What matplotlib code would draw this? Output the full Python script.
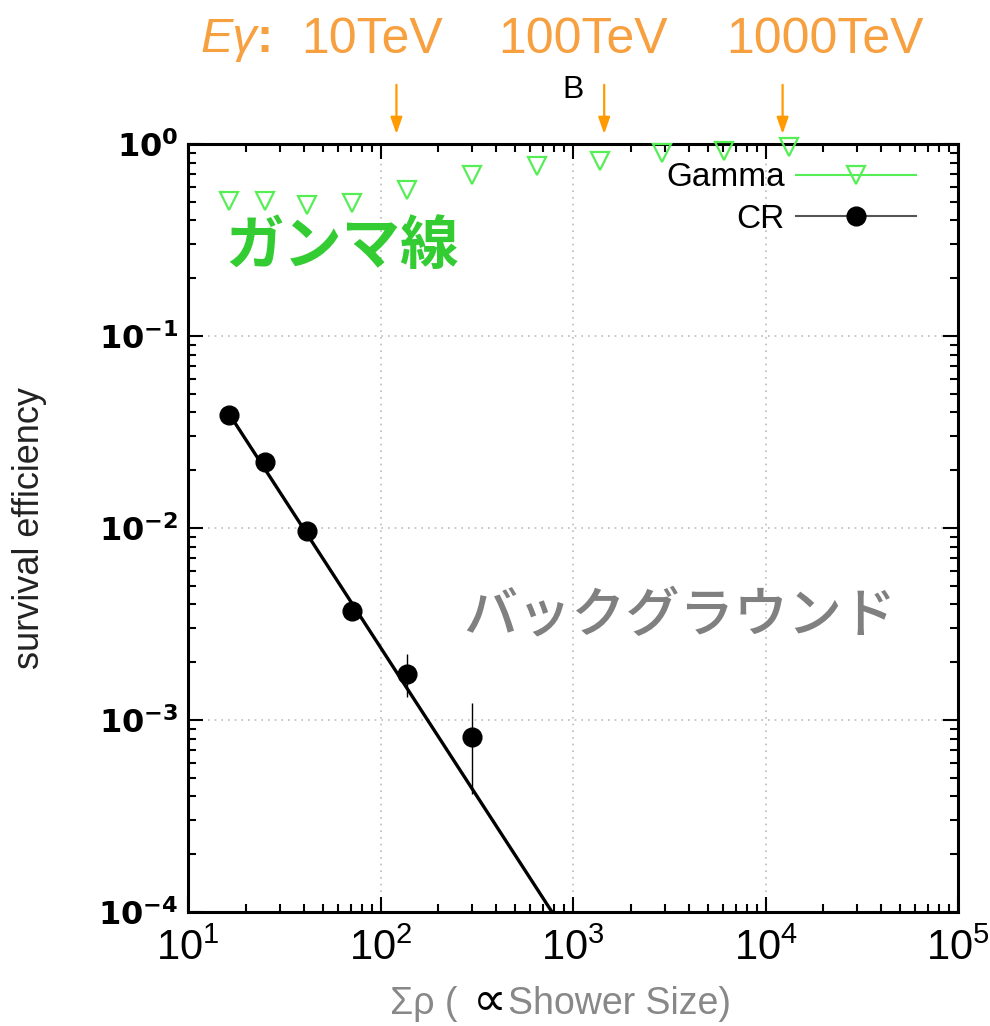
import matplotlib
matplotlib.use('Agg')
import matplotlib.pyplot as plt
from matplotlib.lines import Line2D
import matplotlib.transforms as mtrans

# ---------------- data ----------------
gamma_x = [16.3, 25.1, 41.5, 71, 137, 299, 650, 1380, 2900, 6080, 13200]
gamma_y = [0.507, 0.505, 0.481, 0.493, 0.576, 0.690, 0.768, 0.815, 0.898, 0.920, 0.964]

cr_x = [16.3, 25.1, 41.5, 71, 137, 299]
cr_y = [0.0388, 0.0221, 0.00964, 0.0037, 0.00174, 0.000815]
cr_y_low = [0.0370, 0.0210, 0.00910, 0.00345, 0.00132, 0.000412]
cr_y_high = [0.0405, 0.0232, 0.01020, 0.00395, 0.00221, 0.00123]

fit_x = [16.3, 778]
fit_y = [0.0395, 1.0e-4]

arrow_x = [121, 1452, 12270]
energy_labels = ['10TeV', '100TeV', '1000TeV']

xticks = [1e1, 1e2, 1e3, 1e4, 1e5]
xtick_labels = [r'$\mathregular{10^{1}}$', r'$\mathregular{10^{2}}$', r'$\mathregular{10^{3}}$',
                r'$\mathregular{10^{4}}$', r'$\mathregular{10^{5}}$']
yticks = [1e-4, 1e-3, 1e-2, 1e-1, 1e0]
ytick_labels = [r'$\mathregular{10^{-4}}$', r'$\mathregular{10^{-3}}$', r'$\mathregular{10^{-2}}$',
                r'$\mathregular{10^{-1}}$', r'$\mathregular{10^{0}}$']

# ---------------- style ----------------
NARROW = ['Liberation Sans', 'DejaVu Sans']
CJK = ['Noto Sans CJK JP', 'DejaVu Sans']
ORANGE_T = '#F7A040'
ORANGE_A = '#FF9A00'
GREEN_M = '#55EE55'

W, H = 990, 1026
fig = plt.figure(figsize=(W / 100, H / 100), dpi=100)
ax = fig.add_axes([188 / W, 1 - 912 / H, 770 / W, 768 / H])

def fx(px):
    return px / W

def fy(py):
    return 1 - py / H

ax.set_xscale('log')
ax.set_yscale('log')
ax.set_xlim(1e1, 1e5)
ax.set_ylim(1e-4, 1e0)

# grid
ax.grid(True, which='major', color='#bbbbbb', linestyle=(0, (1, 3)), linewidth=1.2)
ax.set_axisbelow(True)

# fit line
ax.plot(fit_x, fit_y, color='black', lw=2.4, zorder=3)

# CR points with error bars
yerr = [[c - l for c, l in zip(cr_y, cr_y_low)], [h - c for c, h in zip(cr_y, cr_y_high)]]
ax.errorbar(cr_x, cr_y, yerr=yerr, fmt='o', color='black', ms=13.5, elinewidth=1.0,
            capsize=0, zorder=4)

# Gamma points
ax.plot(gamma_x, gamma_y, linestyle='none', marker='v', ms=13, markerfacecolor='none',
        markeredgecolor=GREEN_M, markeredgewidth=1.6, clip_on=False, zorder=5)

# ticks
ax.set_xticks(xticks)
ax.set_xticklabels(xtick_labels)
ax.set_yticks(yticks)
ax.set_yticklabels(ytick_labels)
ax.tick_params(which='both', direction='in', top=True, right=True, width=1.5)
ax.tick_params(which='major', length=11)
ax.tick_params(which='minor', length=6)
ax.tick_params(axis='x', which='major', pad=12)
ax.tick_params(axis='y', which='major', pad=7)
for t in ax.get_xticklabels():
    t.set_fontfamily(NARROW)
    t.set_fontsize(30)
for t in ax.get_yticklabels():
    t.set_fontfamily(['DejaVu Sans'])
    t.set_fontweight('bold')
    t.set_fontsize(23)
for s in ax.spines.values():
    s.set_linewidth(2.2)

# legend
handles = [Line2D([], [], color=GREEN_M, lw=1.5, marker='v', ms=13, markerfacecolor='none',
                  markeredgecolor=GREEN_M, markeredgewidth=1.6),
           Line2D([], [], color='#555555', lw=1.5, marker='o', ms=13.5, markerfacecolor='black',
                  markeredgecolor='black')]
leg = ax.legend(handles, ['Gamma', 'CR'], loc='upper right', bbox_to_anchor=(0.946, 0.976),
                frameon=False, markerfirst=False, handlelength=3.6, handletextpad=0.35,
                labelspacing=0.32, borderpad=0, borderaxespad=0,
                prop={'family': NARROW, 'size': 24})

# axis labels
fig.text(fx(30), fy(528), 'survival efficiency', rotation=90, ha='center', va='center',
         fontsize=26, family=NARROW, color='#222222')

fig.text(fx(458), fy(1004), 'Σρ (', ha='right', va='center', fontsize=27,
         family=NARROW, color='#888888')
fig.text(fx(473), fy(1002), '∝', ha='left', va='center', fontsize=34,
         family=['DejaVu Sans'], color='black')
fig.text(fx(508), fy(1004), 'Shower Size)', ha='left', va='center', fontsize=27,
         family=NARROW, color='#888888')

# energy annotation
fig.text(fx(200), fy(40), 'Eγ', ha='left', va='center', fontsize=35, style='italic',
         family=NARROW, color=ORANGE_T)
fig.text(fx(256), fy(40), ':', ha='left', va='center', fontsize=35, weight='bold',
         family=NARROW, color=ORANGE_T)
label_px = [372, 583, 825]
for lab, px in zip(energy_labels, label_px):
    fig.text(fx(px), fy(40), lab, ha='center', va='center', fontsize=36,
             family=NARROW, color=ORANGE_T)

trans = mtrans.blended_transform_factory(ax.transData, ax.transAxes)
for xa in arrow_x:
    ax.annotate('', xy=(xa, 1.013), xytext=(xa, 1.077), xycoords=trans, textcoords=trans,
                arrowprops=dict(arrowstyle='-|>,head_length=1.0,head_width=0.35',
                                color=ORANGE_A, lw=1.6, shrinkA=0, shrinkB=0),
                annotation_clip=False)

fig.text(fx(573), fy(90), 'B', ha='center', va='center', fontsize=23, family=NARROW,
         color='black')

# Japanese labels
ax.text(0.048, 0.866, 'ガンマ線', transform=ax.transAxes, ha='left', va='center',
        fontsize=42, weight='bold', family=CJK, color='#33CC33')
ax.text(0.357, 0.386, 'バックグラウンド', transform=ax.transAxes, ha='left', va='center',
        fontsize=39, weight='medium', family=CJK, color='#808080')

fig.savefig('out.png', dpi=100)
